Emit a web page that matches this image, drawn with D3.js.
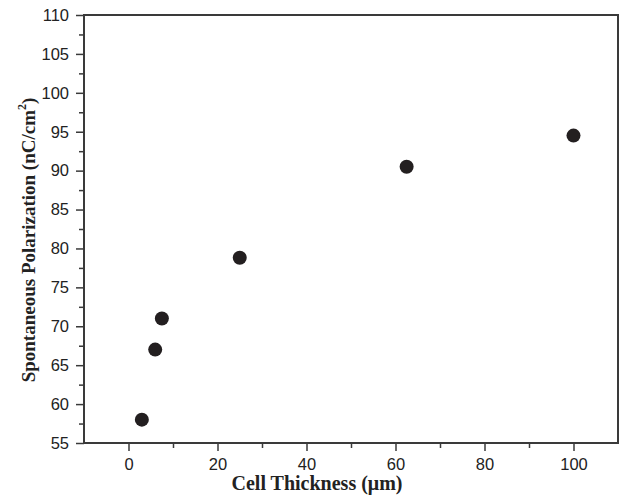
<!DOCTYPE html>
<html>
<head>
<meta charset="utf-8">
<script src="https://cdn.jsdelivr.net/npm/d3@7"></script>
<style>
  body { margin: 0; background: #fff; }
</style>
</head>
<body>
<script>
const width = 624;
const height = 496;
const marginTop = 15;
const marginRight = 6;
const marginBottom = 53;
const marginLeft = 84;

// cell thickness (um) vs spontaneous polarization (nC/cm^2)
const thickness = [3, 6, 7.5, 25, 62.5, 100];
const polarization = [58, 67, 71, 78.8, 90.5, 94.5];
const xTicks = [0, 20, 40, 60, 80, 100];
const yTicks = [55, 60, 65, 70, 75, 80, 85, 90, 95, 100, 105, 110];

const axisColor = "#3a3a3a";
const dotColor = "#231f20";

const x = d3.scaleLinear()
    .domain([-10, 110])
    .range([marginLeft, width - marginRight]);

const y = d3.scaleLinear()
    .domain([55, 110])
    .range([height - marginBottom, marginTop]);

const svg = d3.select("body")
    .append("svg")
    .attr("width", width)
    .attr("height", height);

// minor ticks
svg.append("g")
    .attr("transform", `translate(0,${y(55)})`)
    .call(d3.axisBottom(x).tickValues(d3.range(10, 110, 20)).tickSize(5).tickFormat(""))
    .call(g => g.select(".domain").remove())
    .call(g => g.selectAll("line").attr("stroke", axisColor).attr("stroke-width", 1.5));

svg.append("g")
    .attr("transform", `translate(${x(-10)},0)`)
    .call(d3.axisLeft(y).tickValues(d3.range(57.5, 110, 5)).tickSize(5).tickFormat(""))
    .call(g => g.select(".domain").remove())
    .call(g => g.selectAll("line").attr("stroke", axisColor).attr("stroke-width", 1.5));

// major ticks
const xAxis = svg.append("g")
    .attr("transform", `translate(0,${y(55)})`)
    .call(d3.axisBottom(x).tickValues(xTicks).tickSize(8).tickPadding(7));

const yAxis = svg.append("g")
    .attr("transform", `translate(${x(-10)},0)`)
    .call(d3.axisLeft(y).tickValues(yTicks).tickSize(8).tickPadding(7));

[xAxis, yAxis].forEach(g => {
  g.select(".domain").remove();
  g.selectAll("line").attr("stroke", axisColor).attr("stroke-width", 1.5);
  g.selectAll("text")
    .attr("fill", "#222")
    .style("font-family", "'Liberation Sans', Arial, sans-serif")
    .style("font-size", "16.5px");
});

// frame
svg.append("rect")
    .attr("x", x(-10))
    .attr("y", y(110))
    .attr("width", x(110) - x(-10))
    .attr("height", y(55) - y(110))
    .attr("fill", "none")
    .attr("stroke", axisColor)
    .attr("stroke-width", 2);

// points
svg.selectAll(".dot")
    .data(thickness.map((t, i) => ({t, p: polarization[i]})))
    .enter()
    .append("circle")
    .attr("class", "dot")
    .attr("cx", d => x(d.t))
    .attr("cy", d => y(d.p))
    .attr("r", 7)
    .attr("fill", dotColor);

// axis titles
svg.append("text")
    .attr("x", 317)
    .attr("y", 490)
    .attr("text-anchor", "middle")
    .style("font-family", "'Liberation Serif', 'Times New Roman', serif")
    .style("font-weight", "bold")
    .style("font-size", "20px")
    .attr("fill", "#222")
    .text("Cell Thickness (\u03bcm)");

const yTitle = svg.append("text")
    .attr("transform", "translate(35,240) rotate(-90)")
    .attr("text-anchor", "middle")
    .style("font-family", "'Liberation Serif', 'Times New Roman', serif")
    .style("font-weight", "bold")
    .style("font-size", "19px")
    .attr("fill", "#222");

yTitle.append("tspan").text("Spontaneous Polarization (nC/cm");
yTitle.append("tspan").attr("dy", -9).style("font-size", "12px").text("2");
yTitle.append("tspan").attr("dy", 9).text(")");
</script>
</body>
</html>
